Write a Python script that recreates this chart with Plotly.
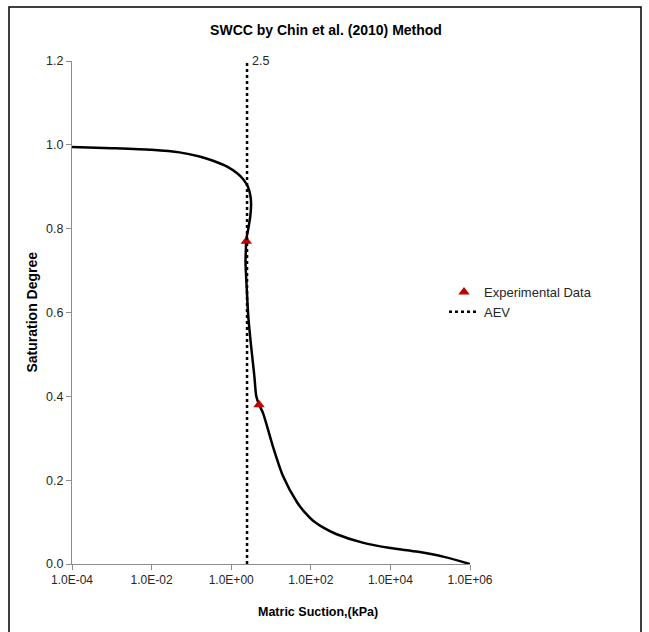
import plotly.graph_objects as go

# SWCC fitted curve: matric suction (kPa) vs degree of saturation
suction_kpa = [1e-4, 1e-3, 1e-2, 0.05, 0.16, 0.35, 0.79, 1.41, 2.0, 2.63,
               3.02, 3.16, 3.02, 2.69, 2.40, 2.34, 2.29, 2.45, 2.69, 3.16,
               3.80, 4.27, 5.01, 6.31, 11.2, 20.0, 44.7, 70.8, 112, 224,
               447, 2000, 1e4, 5e4, 2.24e5, 1e6]
saturation = [0.995, 0.992, 0.988, 0.982, 0.972, 0.962, 0.948, 0.932, 0.918, 0.900,
              0.880, 0.860, 0.830, 0.800, 0.775, 0.750, 0.720, 0.660, 0.590, 0.520,
              0.450, 0.400, 0.380, 0.360, 0.280, 0.210, 0.148, 0.123, 0.104, 0.085,
              0.071, 0.051, 0.038, 0.029, 0.017, 0.0]

# Experimental points
exp_suction = [2.4, 5.0]
exp_saturation = [0.77, 0.38]

# Air-entry value
aev = 2.5
aev_y = [0.0, 1.2]

x_tickvals = [1e-4, 1e-2, 1e0, 1e2, 1e4, 1e6]
x_ticktext = ["1.0E-04", "1.0E-02", "1.0E+00", "1.0E+02", "1.0E+04", "1.0E+06"]

FONT = "Liberation Sans, Arial, sans-serif"
TXT = "#262626"

fig = go.Figure()

fig.add_trace(go.Scatter(
    x=suction_kpa, y=saturation, mode="lines",
    line=dict(color="black", width=2.5, shape="spline", smoothing=0.7),
    showlegend=False, hoverinfo="skip"))

fig.add_trace(go.Scatter(
    x=exp_suction, y=exp_saturation, mode="markers",
    marker=dict(symbol="triangle-up", color="#C00000", size=10),
    name="Experimental Data"))

fig.add_trace(go.Scatter(
    x=[aev, aev], y=aev_y, mode="lines",
    line=dict(color="black", width=2.5, dash="dot"),
    name="AEV"))

fig.add_annotation(x=0.398, y=1.2, xref="x", yref="y", text="2.5",
                   showarrow=False, xanchor="left", yanchor="middle", xshift=3,
                   font=dict(family=FONT, size=12.5, color=TXT))

fig.add_annotation(x=(318 - 72) / 398, y=-0.0954, xref="paper", yref="paper",
                   text="<b>Matric Suction,(kPa)</b>", showarrow=False,
                   xanchor="center", yanchor="middle",
                   font=dict(family=FONT, size=12.5, color="#000"))

fig.add_annotation(x=-0.103, y=0.5, xref="paper", yref="paper",
                   text="<b>Saturation Degree</b>", showarrow=False, textangle=-90,
                   xanchor="center", yanchor="middle",
                   font=dict(family=FONT, size=14, color="#000"))

# Chart frame
fig.add_shape(type="rect", xref="paper", yref="paper",
              x0=(9 - 72) / 398, x1=(641 - 72) / 398,
              y0=-0.2, y1=(564 - 7) / 503,
              line=dict(color="black", width=1.5), fillcolor="rgba(0,0,0,0)")

fig.update_layout(
    width=649, height=632,
    margin=dict(l=72, r=179, t=61, b=68),
    paper_bgcolor="white", plot_bgcolor="white",
    font=dict(family=FONT, size=12, color=TXT),
    title=dict(text="<b>SWCC by Chin et al. (2010) Method</b>",
               x=326 / 649, xanchor="center", xref="container",
               y=1 - 30 / 632, yanchor="middle", yref="container",
               font=dict(family=FONT, size=14, color="#000")),
    legend=dict(x=(444 - 72) / 398, y=(564 - 277) / 503, xanchor="left", yanchor="top",
                bgcolor="rgba(0,0,0,0)", font=dict(family=FONT, size=13, color=TXT),
                tracegroupgap=0, itemwidth=30),
    xaxis=dict(type="log", range=[-4, 6], tickvals=x_tickvals, ticktext=x_ticktext,
               showgrid=False, zeroline=False, showline=True, linecolor="#8c8c8c",
               linewidth=1, ticks="outside", ticklen=5, tickcolor="#8c8c8c",
               tickfont=dict(family=FONT, size=12, color=TXT)),
    yaxis=dict(range=[0, 1.2], dtick=0.2, tickformat=".1f",
               showgrid=False, zeroline=False, showline=True, linecolor="#8c8c8c",
               linewidth=1, ticks="outside", ticklen=5, tickcolor="#8c8c8c",
               tickfont=dict(family=FONT, size=12.5, color=TXT)),
)

fig.write_html("out.html")
